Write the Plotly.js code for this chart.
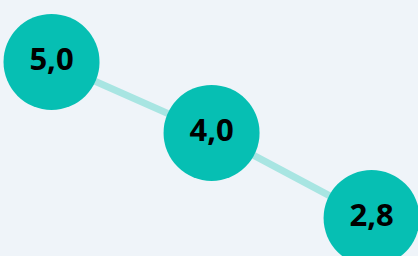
<!DOCTYPE html>
<html>
<head>
<meta charset="utf-8">
<script src="https://cdn.plot.ly/plotly-3.0.1.min.js"></script>
<style>html,body{margin:0;padding:0;background:#eff4f9;}#chart{width:418px;height:256px;}</style>
</head>
<body>
<div id="chart"></div>
<script>
const categories = ['A', 'B', 'C'];
const values = [5.0, 4.0, 2.8];

const trace = {
  x: categories,
  y: values,
  type: 'scatter',
  mode: 'lines+markers+text',
  line: {color: '#a8e5e2', width: 7},
  marker: {size: 96, color: '#06bfb3', line: {width: 0}},
  texttemplate: '%{y:.1f}',
  textposition: 'middle center',
  textfont: {family: 'Open Sans, Noto Sans, sans-serif', size: 31, color: '#000000', weight: 'bold'},
  hoverinfo: 'skip',
  cliponaxis: false
};

const layout = {
  width: 418, height: 256,
  margin: {l: 0, r: 0, t: 0, b: 0},
  paper_bgcolor: '#eff4f9',
  plot_bgcolor: '#eff4f9',
  separators: ',.',
  showlegend: false,
  xaxis: {visible: false, range: [-0.322, 2.29], fixedrange: true},
  yaxis: {visible: false, range: [2.265, 5.873], fixedrange: true}
};

Plotly.newPlot('chart', [trace], layout, {displayModeBar: false, staticPlot: true});
</script>
</body>
</html>
